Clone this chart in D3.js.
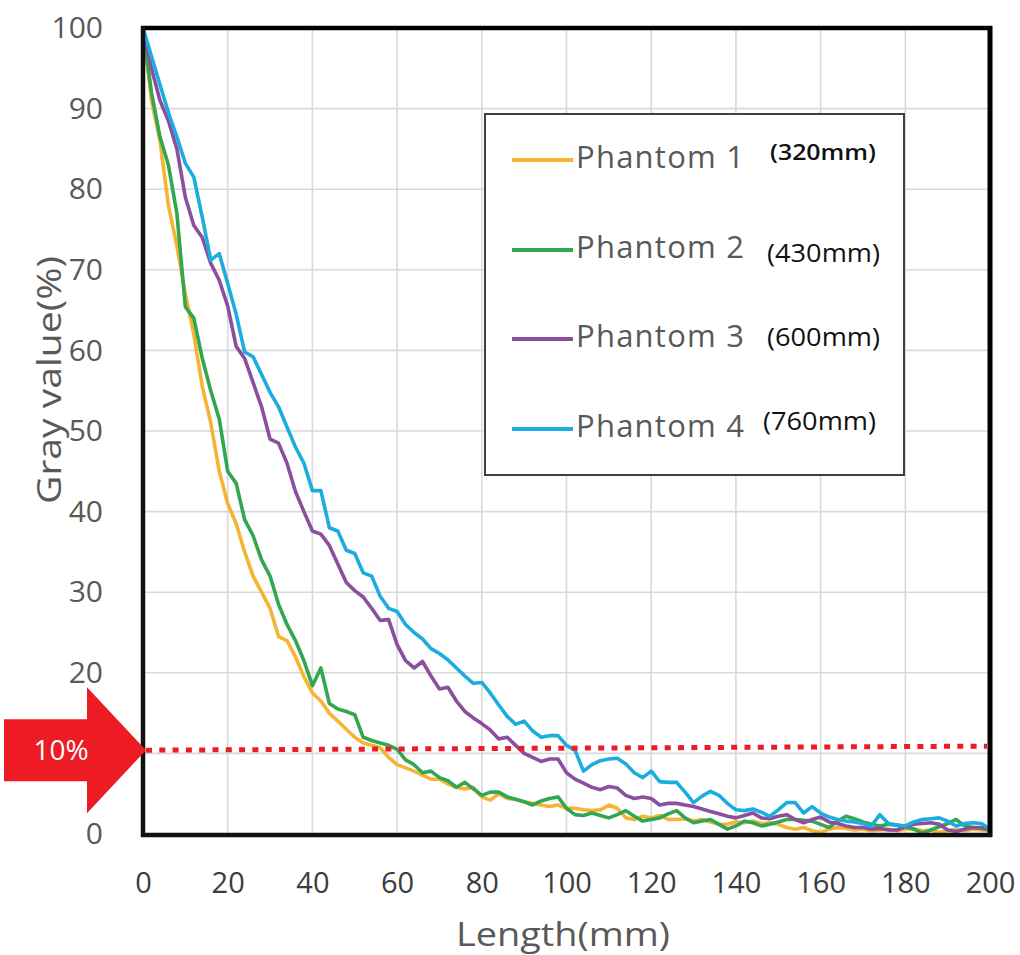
<!DOCTYPE html>
<html>
<head>
<meta charset="utf-8">
<script src="https://cdn.jsdelivr.net/npm/d3@7"></script>
<style>
  html, body { margin: 0; padding: 0; background: #fff; }
  svg { display: block; }
</style>
</head>
<body>
<svg id="chart" width="1020" height="955"></svg>
<script>
// ---------------- data ----------------
const lengthMm = d3.range(0, 201, 2); // 0,2,...,200
const seriesNames = ["Phantom 1", "Phantom 2", "Phantom 3", "Phantom 4"];
const seriesSizes = ["(320mm)", "(430mm)", "(600mm)", "(760mm)"];
const phantom1 = [100,91,86,78,73,67,62,55.5,51,45,41,38.5,35,32,30,28,24.5,24,22,19.5,17.5,16.5,15,14,13,12,11.3,11,10.7,9.5,8.6,8.2,7.8,7.3,6.8,6.8,6.2,5.8,5.6,5.8,4.6,4.2,5.0,4.4,4.3,4.0,3.8,3.6,3.4,3.6,3.2,3.2,3.0,2.9,3.0,3.6,3.2,2.0,1.8,2.2,2.0,2.3,1.8,1.8,1.9,1.6,1.8,1.5,1.2,1.2,1.5,1.4,1.6,1.3,1.4,1.2,0.8,0.6,0.8,0.4,0.2,0.6,0.8,0.7,0.5,0.6,0.4,0.5,0.6,0.4,0.6,0.7,0.4,0.5,0.2,0.4,0.6,0.4,0.6,0.5,0.4];
const phantom2 = [100,92,86.5,83,77,65.4,64,59,55,51.5,45,43.5,39,37,34,32,28.5,26,24,21.5,18.4,20.6,16.2,15.5,15.2,14.8,12,11.6,11.3,11,10.5,9.2,8.6,7.6,7.8,7.0,6.6,5.8,6.4,5.6,4.8,5.2,5.2,4.6,4.3,4.0,3.6,4.1,4.4,4.6,3.2,2.4,2.3,2.6,2.3,2.0,2.4,2.9,2.2,1.6,1.8,2.0,2.5,2.9,2.0,1.4,1.6,1.8,1.2,0.6,1.0,1.6,1.4,1.0,1.2,1.5,1.8,1.8,1.7,1.6,1.2,0.8,1.6,2.2,1.9,1.5,1.2,1.0,1.2,1.1,0.9,0.6,0.1,0.5,0.9,1.3,1.8,1.0,0.8,0.7,0.5];
const phantom3 = [100,95,91,88.5,85,79,75.5,74,70.8,68.7,65.5,60.5,59,56,53,49,48.5,46,42.5,40,37.6,37.2,35.8,33.5,31.2,30.2,29.4,28,26.5,26.6,23.5,21.5,20.6,21.4,19.6,18,18.2,16.5,15.2,14.4,13.7,12.9,11.8,12.0,11.0,10.0,9.5,9.0,9.3,9.3,7.6,6.8,6.3,5.8,5.5,5.9,5.7,4.8,4.4,4.6,4.4,3.6,3.8,3.8,3.6,3.4,3.1,2.8,2.5,2.2,2.0,2.3,2.6,2.0,1.9,2.2,2.4,1.8,1.4,1.8,2.1,1.5,1.3,1.0,0.8,0.8,0.6,0.7,0.5,0.5,0.9,1.2,1.3,1.4,1.2,0.5,0.3,0.6,0.8,0.8,0.6];
const phantom4 = [100,96.5,93,89.5,86.5,83.2,81.5,76.5,71.2,72,68.3,64.5,59.8,59.2,57,54.8,53,50.5,48,46,42.6,42.6,38,37.6,35.2,34.8,32.4,32,29.5,28,27.6,26,25,24.2,23,22.4,21.6,20.6,19.6,18.7,18.8,17.5,16,14.6,13.6,14,12.8,12,12.2,12.2,11,10.4,7.8,8.6,9.1,9.3,9.4,8.7,7.6,7.0,7.8,6.5,6.4,6.4,5.2,3.9,4.7,5.3,4.8,3.8,3.0,2.9,3.1,2.7,2.2,3.0,3.9,3.9,2.6,3.4,2.6,2.1,1.8,1.6,1.5,1.3,1.0,2.4,1.3,1.1,1.0,1.5,1.8,1.9,2.0,1.6,1.0,1.3,1.4,1.3,0.6];
const seriesValues = [phantom1, phantom2, phantom3, phantom4];
const xTicks = [0,20,40,60,80,100,120,140,160,180,200];
const yTicks = [0,10,20,30,40,50,60,70,80,90,100];
const yTickLabelsShown = [0,20,30,40,50,60,70,80,90,100]; // "10" is hidden under the red arrow
const thresholdValue = [10.4, 10.9]; // dotted line value at left / right end
const thresholdLabel = "10%";

// ---------------- layout ----------------
const colors = ["#f5b433", "#33a651", "#8b4f9e", "#1badde"];
const svg = d3.select("#chart");
const X0 = 143, X1 = 990, Y0 = 28, Y1 = 834;
const x = d3.scaleLinear().domain([0, 200]).range([X0, X1]);
const y = d3.scaleLinear().domain([0, 100]).range([Y1, Y0]);
const font = "'Open Sans', 'Noto Sans', sans-serif";

// grid
svg.append("g").selectAll("line.v").data(xTicks.slice(1, -1)).join("line")
  .attr("x1", d => x(d)).attr("x2", d => x(d)).attr("y1", Y0).attr("y2", Y1)
  .attr("stroke", "#d9d9d9").attr("stroke-width", 1.6);
svg.append("g").selectAll("line.h").data(yTicks.slice(1, -1)).join("line")
  .attr("x1", X0).attr("x2", X1).attr("y1", d => y(d)).attr("y2", d => y(d))
  .attr("stroke", "#d9d9d9").attr("stroke-width", 1.6);

// axes (labels only)
const yAxis = d3.axisLeft(y).tickValues(yTickLabelsShown).tickSize(0).tickPadding(40);
const gy = svg.append("g").attr("transform", `translate(${X0},0)`).call(yAxis);
gy.select(".domain").remove();
gy.selectAll("text").attr("font-family", font).attr("font-size", 30).attr("fill", "#595959");

const xAxis = d3.axisBottom(x).tickValues(xTicks).tickSize(0).tickPadding(38);
const gx = svg.append("g").attr("transform", `translate(0,${Y1})`).call(xAxis);
gx.select(".domain").remove();
gx.selectAll("text").attr("font-family", font).attr("font-size", 29).attr("fill", "#3c3c3c");

// axis titles
svg.append("text").attr("x", 563).attr("y", 946).attr("text-anchor", "middle")
  .attr("font-family", font).attr("font-size", 33).attr("fill", "#595959")
  .attr("textLength", 214).attr("lengthAdjust", "spacingAndGlyphs").text("Length(mm)");
svg.append("text").attr("transform", "translate(61,380) rotate(-90)").attr("text-anchor", "middle")
  .attr("font-family", font).attr("font-size", 33).attr("fill", "#595959")
  .attr("textLength", 248).attr("lengthAdjust", "spacingAndGlyphs").text("Gray value(%)");

// series
const line = d3.line().x((d, i) => x(lengthMm[i])).y(d => y(d));
svg.append("g").selectAll("path").data(seriesValues).join("path")
  .attr("d", d => line(d)).attr("fill", "none")
  .attr("stroke", (d, i) => colors[i]).attr("stroke-width", 3.6)
  .attr("stroke-linejoin", "round");

// frame
svg.append("line").attr("x1", X0 - 2).attr("x2", X1 + 2).attr("y1", Y0).attr("y2", Y0).attr("stroke", "#000").attr("stroke-width", 4.5);
svg.append("line").attr("x1", X0).attr("x2", X0).attr("y1", Y0 - 2).attr("y2", Y1 + 3).attr("stroke", "#111").attr("stroke-width", 4.5);
svg.append("line").attr("x1", X1).attr("x2", X1).attr("y1", Y0 - 2).attr("y2", Y1 + 3).attr("stroke", "#000").attr("stroke-width", 5);
svg.append("line").attr("x1", X0 - 2).attr("x2", X1 + 2).attr("y1", Y1 + 1).attr("y2", Y1 + 1).attr("stroke", "#111").attr("stroke-width", 4.5);

// legend
const lg = svg.append("g");
lg.append("rect").attr("x", 485).attr("y", 114).attr("width", 419).attr("height", 361)
  .attr("fill", "#fff").attr("stroke", "#404040").attr("stroke-width", 2);
const legY = [160, 250, 339, 429];
const sizeY = [160, 262, 346, 430];
const sizeFs = [21, 25, 25, 25];
seriesNames.forEach((n, i) => {
  lg.append("line").attr("x1", 512).attr("x2", 573).attr("y1", legY[i]).attr("y2", legY[i])
    .attr("stroke", colors[i]).attr("stroke-width", 4);
  lg.append("text").attr("x", 576).attr("y", legY[i] + 8).attr("font-family", font)
    .attr("font-size", 31).attr("fill", "#595959")
    .attr("textLength", 168).attr("lengthAdjust", "spacing").text(n);
  lg.append("text").attr("x", i === 0 ? 770 : (i === 3 ? 763 : 767)).attr("y", sizeY[i])
    .attr("font-family", font).attr("font-size", sizeFs[i])
    .attr("font-weight", i === 0 ? 600 : "normal").attr("fill", "#111")
    .attr("textLength", i === 0 ? 106 : 113).attr("lengthAdjust", "spacingAndGlyphs").text(seriesSizes[i]);
});

// red threshold dotted line
svg.append("line")
  .attr("x1", X0 + 3).attr("x2", X1 - 3)
  .attr("y1", y(thresholdValue[0])).attr("y2", y(thresholdValue[1]))
  .attr("stroke", "#ed1c24").attr("stroke-width", 5).attr("stroke-dasharray", "6,7.3");

// red arrow
const ay = y(thresholdValue[0]);
const arrowPts = [[4, ay - 31], [87, ay - 31], [87, ay - 63], [146, ay], [87, ay + 63], [87, ay + 31], [4, ay + 31]];
svg.append("polygon").attr("points", arrowPts.map(p => p.join(",")).join(" ")).attr("fill", "#ed1c24");
svg.append("text").attr("x", 61).attr("y", ay + 10).attr("text-anchor", "middle")
  .attr("font-family", font).attr("font-size", 28).attr("fill", "#fff").text(thresholdLabel);
</script>
</body>
</html>
